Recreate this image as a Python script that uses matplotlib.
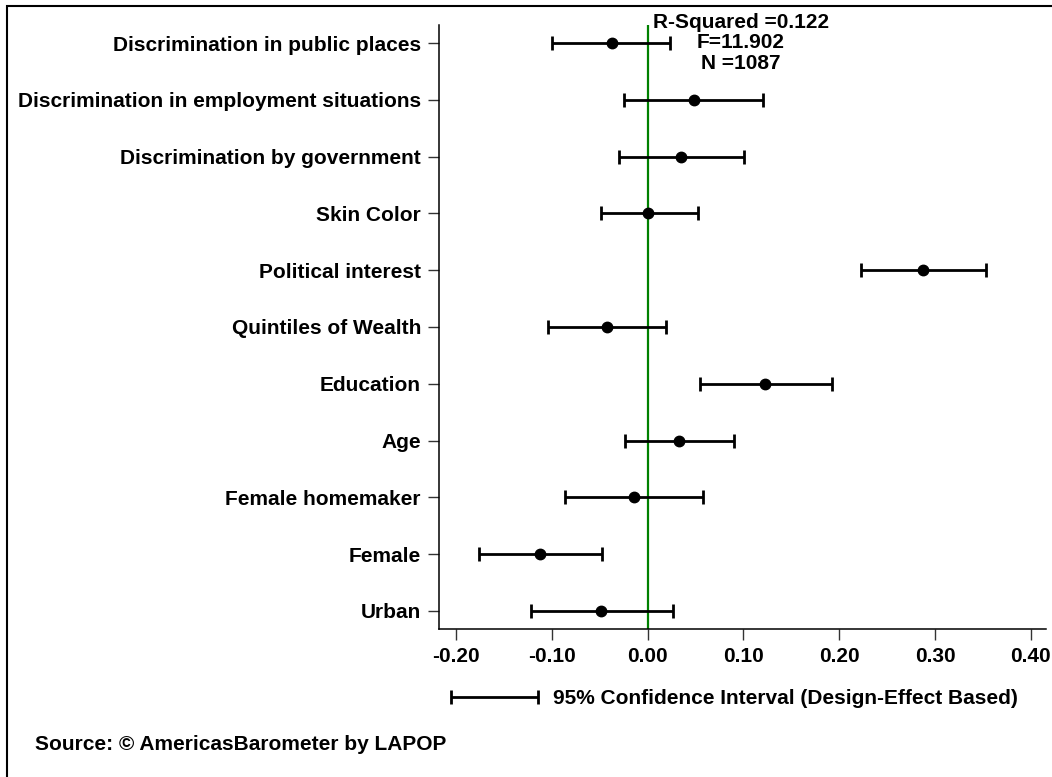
import numpy as np
import matplotlib
matplotlib.use('Agg')
from matplotlib import pyplot as plt
from matplotlib.patches import Rectangle

# coefficients and 95% CI (top row first)
labels = ['Discrimination in public places',
          'Discrimination in employment situations',
          'Discrimination by government',
          'Skin Color',
          'Political interest',
          'Quintiles of Wealth',
          'Education',
          'Age',
          'Female homemaker',
          'Female',
          'Urban']
coef = [-0.037, 0.048, 0.035, 0.000, 0.288, -0.043, 0.123, 0.033, -0.014, -0.112, -0.049]
ci_low = [-0.100, -0.025, -0.030, -0.049, 0.223, -0.104, 0.055, -0.024, -0.086, -0.176, -0.122]
ci_high = [0.023, 0.120, 0.101, 0.052, 0.353, 0.019, 0.192, 0.090, 0.058, -0.048, 0.026]
xticks = [-0.2, -0.1, 0.0, 0.1, 0.2, 0.3, 0.4]
stats_text = 'R-Squared =0.122\nF=11.902\nN =1087'
legend_text = '95% Confidence Interval (Design-Effect Based)'
source_text = 'Source: \u00a9 AmericasBarometer by LAPOP'

plt.rcParams['font.family'] = ['Liberation Sans', 'DejaVu Sans']
plt.rcParams['font.weight'] = 'bold'
FS = 15

W, H = 1052, 777
f = plt.figure(figsize=(W / 100, H / 100), dpi=100)
ax = f.add_axes([439 / W, 1 - 629 / H, (1046 - 439) / W, (629 - 25) / H])

coef = np.array(coef)
lo = np.array(ci_low)
hi = np.array(ci_high)
y = np.arange(len(labels))[::-1]

ax.axvline(0, color='#008000', lw=1.6, zorder=1)
ax.errorbar(coef, y, xerr=[coef - lo, hi - coef], fmt='o', color='black',
            ms=7.5, elinewidth=2, capsize=5, capthick=2, zorder=3)

ax.set_xlim(-0.218, 0.416)
ax.set_ylim(-0.32, len(labels) - 1 + 0.32)
ax.set_xticks(xticks)
ax.set_xticklabels(['%.2f' % v for v in xticks], fontsize=FS, fontweight='bold')
ax.set_yticks(y)
ax.set_yticklabels(labels, fontsize=FS, fontweight='bold')
ax.tick_params(axis='both', length=8, width=1, color='#333333')
ax.tick_params(axis='x', pad=5)
ax.tick_params(axis='y', pad=5)
for s in ['top', 'right']:
    ax.spines[s].set_visible(False)
for s in ['left', 'bottom']:
    ax.spines[s].set_linewidth(1.1)

f.text(741 / W, 1 - 43 / H, stats_text, ha='center', va='center',
       multialignment='center', fontsize=FS, fontweight='bold', linespacing=1.1)

# legend key: a small error bar
axl = f.add_axes([451 / W, 1 - 710 / H, (538 - 451) / W, 26 / H])
axl.set_xlim(0, 1)
axl.set_ylim(-1, 1)
_, caps, bars = axl.errorbar([0.5], [0], xerr=[[0.5], [0.5]], fmt='none', color='black',
                             elinewidth=2, capsize=5, capthick=2)
for a in list(caps) + list(bars):
    a.set_clip_on(False)
axl.axis('off')
f.text(553 / W, 1 - 698 / H, legend_text, ha='left', va='center',
       fontsize=FS, fontweight='bold')

f.text(35 / W, 1 - 745 / H, source_text, ha='left', va='center',
       fontsize=FS, fontweight='bold')

# frame around the figure (cut off on the right and bottom)
f.patches.append(Rectangle((7 / W, -0.1), 1.2, 1 - 6 / H + 0.1, transform=f.transFigure,
                           fill=False, ec='black', lw=1.5))

plt.savefig('out.png', dpi=100)
